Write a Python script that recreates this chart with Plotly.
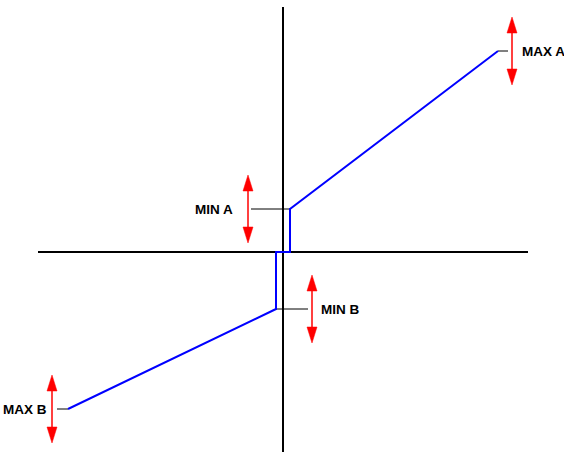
import plotly.graph_objects as go

# Transfer curve (units: arbitrary, origin at the axes crossing)
curve_x = [-21.5, -0.7, -0.7, 0.7, 0.7, 21.5]
curve_y = [-15.7, -5.7, 0.0, 0.0, 4.3, 20.1]

# Limit markers: label, level, leader line start/end, arrow position, label position
labels = ["MIN A", "MIN B", "MAX A", "MAX B"]
level_y = [4.3, -5.7, 20.1, -15.7]
leader_x0 = [-3.2, -0.7, 21.5, -22.6]
leader_x1 = [0.7, 2.5, 22.5, -21.5]
arrow_x = [-3.5, 2.9, 22.9, -23.1]
label_x = [-4.8, 3.6, 23.7, -23.4]
label_side = ["right", "left", "left", "right"]

# Axes extents
axis_half = 24.5
axis_top = 24.5
axis_bottom = -20.0

ARROW_HALF = 3.4
HEAD_LEN = 1.6
HEAD_HALF_W = 0.5

fig = go.Figure()

# axes cross
fig.add_trace(go.Scatter(x=[-axis_half, axis_half, None, 0, 0],
                         y=[0, 0, None, axis_top, axis_bottom],
                         mode="lines", line=dict(color="black", width=2),
                         hoverinfo="skip"))

# leader lines
lx, ly = [], []
for x0, x1, y in zip(leader_x0, leader_x1, level_y):
    lx += [x0, x1, None]
    ly += [y, y, None]
fig.add_trace(go.Scatter(x=lx, y=ly, mode="lines",
                         line=dict(color="black", width=1), hoverinfo="skip"))

# blue curve
fig.add_trace(go.Scatter(x=curve_x, y=curve_y, mode="lines",
                         line=dict(color="#0000ff", width=2), hoverinfo="skip"))

# red double arrows: shafts and heads
sx, sy, hx, hy = [], [], [], []
for x, y in zip(arrow_x, level_y):
    top, bot = y + ARROW_HALF, y - ARROW_HALF
    sx += [x, x, None]
    sy += [top - HEAD_LEN, bot + HEAD_LEN, None]
    hx += [x, x - HEAD_HALF_W, x + HEAD_HALF_W, x, None]
    hy += [top, top - HEAD_LEN, top - HEAD_LEN, top, None]
    hx += [x, x - HEAD_HALF_W, x + HEAD_HALF_W, x, None]
    hy += [bot, bot + HEAD_LEN, bot + HEAD_LEN, bot, None]
fig.add_trace(go.Scatter(x=sx, y=sy, mode="lines",
                         line=dict(color="#ff0000", width=1.5), hoverinfo="skip"))
fig.add_trace(go.Scatter(x=hx, y=hy, mode="lines", fill="toself",
                         fillcolor="#ff0000", line=dict(color="#ff0000", width=0.5),
                         hoverinfo="skip"))

# labels
for txt, x, y, side in zip(labels, label_x, level_y, label_side):
    fig.add_annotation(x=x, y=y, text="<b>" + txt + "</b>", showarrow=False,
                       xanchor=side, yanchor="middle",
                       font=dict(family="Liberation Sans, Arial, sans-serif",
                                 size=13.5, color="black"))

fig.update_layout(width=564, height=452,
                  margin=dict(l=0, r=0, t=0, b=0),
                  plot_bgcolor="white", paper_bgcolor="white",
                  showlegend=False)
fig.update_xaxes(range=[-28.3, 28.1], visible=False)
fig.update_yaxes(range=[-20.0, 25.2], visible=False)

fig.write_html("out.html", config={"displayModeBar": False},
               post_script="document.body.style.margin='0';")
